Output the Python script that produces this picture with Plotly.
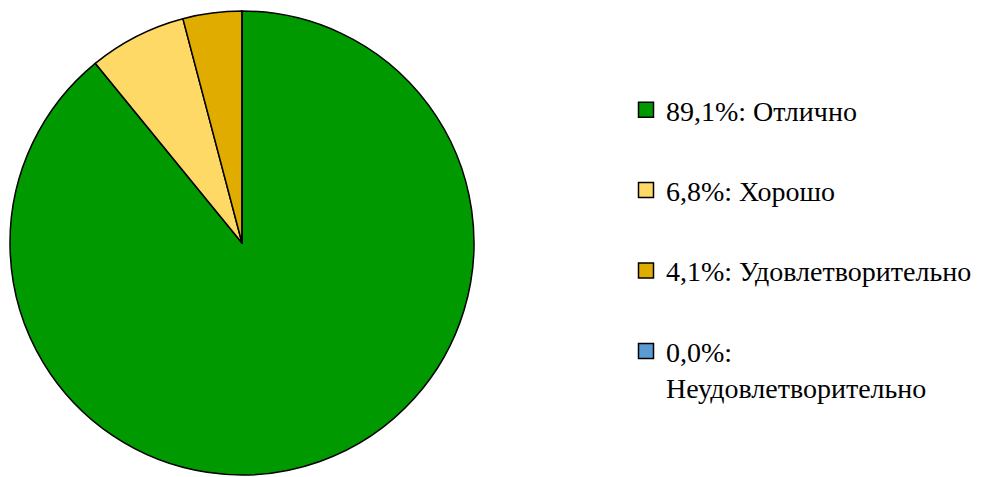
import plotly.graph_objects as go

categories = ["Отлично", "Хорошо", "Удовлетворительно", "Неудовлетворительно"]
percent_text = ["89,1%", "6,8%", "4,1%", "0,0%"]
values = [89.1, 6.8, 4.1, 0.0]
colors = ["#009900", "#FFD966", "#E0AC00", "#5B9BD5"]

legend_labels = [
    f"{p}: {c}" if c != "Неудовлетворительно" else f"{p}:<br>{c}"
    for p, c in zip(percent_text, categories)
]

FONT = "Liberation Serif"
FS = 28

fig = go.Figure()
fig.add_trace(go.Pie(
    labels=categories,
    values=values,
    marker=dict(colors=colors, line=dict(color="black", width=1.5)),
    sort=False,
    direction="clockwise",
    rotation=0,
    textinfo="none",
    hoverinfo="label+percent",
    showlegend=False,
    domain=dict(x=[10 / 989, 474 / 989], y=[2 / 477, 466 / 477]),
))

for i, (lab, col) in enumerate(zip(legend_labels, colors)):
    fig.add_trace(go.Scatter(
        x=[None], y=[None], mode="markers",
        marker=dict(symbol="square", size=15, color=col,
                    line=dict(color="black", width=1.5)),
        name=lab, legendgroup=f"g{i}", showlegend=True,
    ))

fig.update_layout(
    width=989, height=477,
    margin=dict(l=0, r=0, t=0, b=0),
    paper_bgcolor="white", plot_bgcolor="white",
    xaxis=dict(visible=False), yaxis=dict(visible=False),
    font=dict(family=FONT, size=FS, color="black"),
    legend=dict(
        x=626 / 989, xanchor="left",
        y=1 - 85 / 477, yanchor="top",
        tracegroupgap=41,
        valign="top",
        itemsizing="trace",
        font=dict(family=FONT, size=FS, color="black"),
        bgcolor="rgba(0,0,0,0)",
    ),
)

fig.write_html(
    "out.html",
    config={"displayModeBar": False},
    post_script="document.body.style.margin='0';document.body.style.padding='0';",
)
